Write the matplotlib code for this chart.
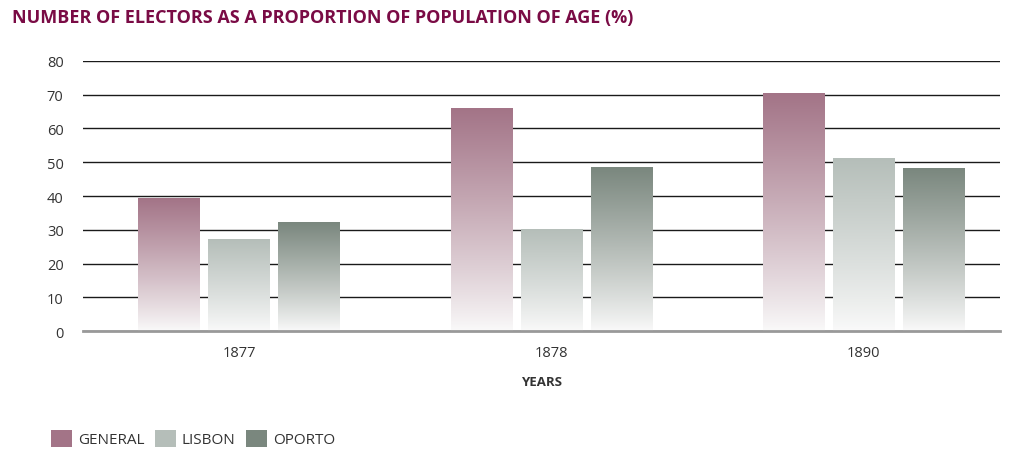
import numpy as np
import matplotlib.pyplot as plt
from matplotlib.colors import to_rgb
from matplotlib.patches import Patch

plt.rcParams['font.family'] = ['Open Sans', 'DejaVu Sans']

years = ['1877', '1878', '1890']
series = ['GENERAL', 'LISBON', 'OPORTO']
general = [39.2, 65.8, 70.2]
lisbon = [27.2, 30.0, 51.2]
oporto = [32.1, 48.3, 48.1]
colors = ['#a37487', '#b5beb9', '#7a877e']

fig = plt.figure(figsize=(10.13, 4.52), dpi=100)
ax = fig.add_axes([0.082, 0.265, 0.905, 0.598])

x = np.arange(len(years))
width = 0.198
step = 0.224


def gradient_bar(ax, xc, h, color):
    c = np.array(to_rgb(color))
    bottom = np.array([0.98, 0.98, 0.98])
    t = np.linspace(0, 1, 256)[:, None]
    img = bottom + (c - bottom) * t ** 0.9
    ax.imshow(img[:, None, :], extent=[xc - width / 2, xc + width / 2, 0, h],
              origin='lower', aspect='auto', zorder=3, interpolation='bilinear')


for i, vals in enumerate([general, lisbon, oporto]):
    for xi, v in zip(x, vals):
        gradient_bar(ax, xi + (i - 1) * step, v, colors[i])

ax.set_xlim(-0.499, 2.435)
ax.set_ylim(0, 80)
ax.set_yticks(range(0, 81, 10))
ax.set_xticks(x)
ax.set_xticklabels(years)
ax.grid(axis='y', color='#1a1a1a', linewidth=1.0, zorder=0)
ax.set_axisbelow(True)
for s in ['top', 'right', 'left']:
    ax.spines[s].set_visible(False)
ax.spines['bottom'].set_color('#999999')
ax.spines['bottom'].set_linewidth(2)
ax.spines['bottom'].set_zorder(4)
ax.tick_params(length=0, labelsize=10.5, colors='#333333', pad=14)
ax.tick_params(axis='x', pad=10)
ax.set_xlabel('YEARS', fontsize=9.5, fontweight='bold', color='#333333', labelpad=11)

fig.text(0.012, 0.96, 'NUMBER OF ELECTORS AS A PROPORTION OF POPULATION OF AGE (%)',
         fontsize=13, fontweight='bold', color='#7a0b45', va='center')

handles = [Patch(facecolor=c, edgecolor='none') for c in colors]
fig.legend(handles, series, loc='lower left', bbox_to_anchor=(0.037, -0.022), ncol=3,
           frameon=False, fontsize=11, handlelength=1.35, handleheight=1.35,
           handletextpad=0.4, columnspacing=0.7, labelcolor='#333333')

fig.savefig('out.png', dpi=100)
